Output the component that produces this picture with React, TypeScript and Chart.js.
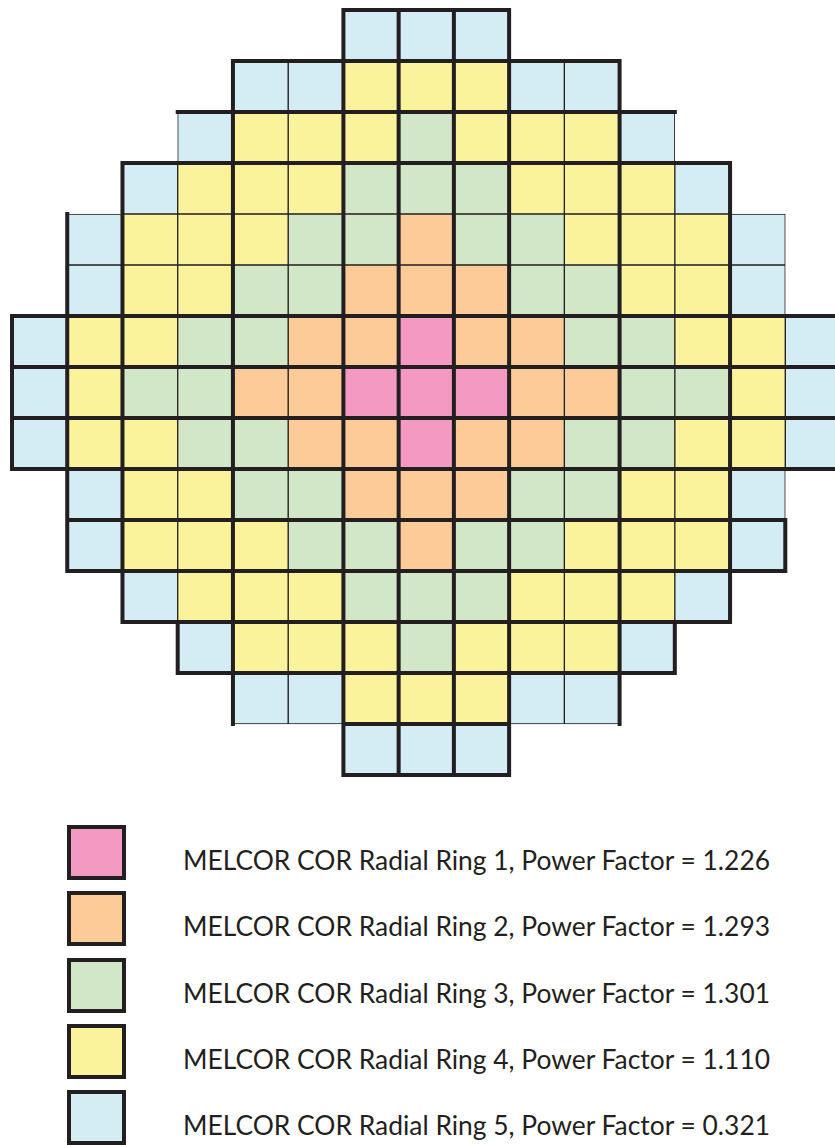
import React, { useEffect, useRef } from 'react';
import { Chart, registerables } from 'chart.js';

Chart.register(...registerables);

// ---- Data ----
const ROW_LABELS = ['Row 1', 'Row 2', 'Row 3', 'Row 4', 'Row 5', 'Row 6', 'Row 7', 'Row 8', 'Row 9', 'Row 10', 'Row 11', 'Row 12', 'Row 13', 'Row 14', 'Row 15'];
const COLUMNS = [0, 1, 2, 3, 4, 5, 6, 7, 8, 9, 10, 11, 12, 13, 14];
// ring number of each assembly, '.' = no assembly
const CORE_MAP = [
  '......555......',
  '....5544455....',
  '...544434445...',
  '..54443334445..',
  '.5444332334445.',
  '.5443322233445.',
  '544332212233445',
  '543322111223345',
  '544332212233445',
  '.5443322233445.',
  '.5444332334445.',
  '..54443334445..',
  '...544434445...',
  '....5544455....',
  '......555......',
];
const RING_NAMES = [
  'MELCOR COR Radial Ring 1',
  'MELCOR COR Radial Ring 2',
  'MELCOR COR Radial Ring 3',
  'MELCOR COR Radial Ring 4',
  'MELCOR COR Radial Ring 5',
];
const POWER_FACTORS = [1.226, 1.293, 1.301, 1.110, 0.321];

// ---- Styles ----
const RING_COLORS = ['#F49AC2', '#FDCB98', '#D1E7C7', '#FAF39B', '#D4ECF3'];
const LINE_COLOR = '#231F20';
const THICK_V = [0, 1, 2, 4, 6, 7, 8, 9, 11, 13];
const THICK_H = [0, 1, 2, 3, 6, 7, 8, 9, 10, 11, 12, 13, 14, 15];
const V_THICK_EXTRA = ['12:3', '12:12', '10:14'];
const V_THIN_EXTRA = ['2:3', '2:12', '4:14', '5:14', '9:14'];
const H_THIN_EXTRA = ['14:4', '14:5', '14:9', '14:10'];

const hasCell = (r: number, c: number) =>
  r >= 0 && r < CORE_MAP.length && c >= 0 && c < COLUMNS.length && CORE_MAP[r][c] !== '.';

const thickLines = {
  id: 'thickLines',
  afterDatasetsDraw(chart: any) {
    const { ctx } = chart;
    const xs = chart.scales.x;
    const ys = chart.scales.y;
    const xEdge = (b: number) => xs.getPixelForValue(b);
    const yEdge = (r: number) => ys.getPixelForValue(r - 0.5);
    ctx.save();
    ctx.strokeStyle = LINE_COLOR;
    ctx.lineWidth = 4;
    ctx.lineCap = 'square';
    ctx.beginPath();
    for (let r = 0; r < CORE_MAP.length; r++) {
      for (let b = 0; b <= COLUMNS.length; b++) {
        if (!(hasCell(r, b - 1) || hasCell(r, b))) continue;
        const key = r + ':' + b;
        let thick = THICK_V.includes(b);
        if (V_THICK_EXTRA.includes(key)) thick = true;
        if (V_THIN_EXTRA.includes(key)) thick = false;
        if (!thick) continue;
        ctx.moveTo(xEdge(b), yEdge(r));
        ctx.lineTo(xEdge(b), yEdge(r + 1));
      }
    }
    for (let r = 0; r <= CORE_MAP.length; r++) {
      for (let c = 0; c < COLUMNS.length; c++) {
        if (!(hasCell(r - 1, c) || hasCell(r, c))) continue;
        const key = r + ':' + c;
        let thick = THICK_H.includes(r);
        if (H_THIN_EXTRA.includes(key)) thick = false;
        if (!thick) continue;
        ctx.moveTo(xEdge(c), yEdge(r));
        ctx.lineTo(xEdge(c + 1), yEdge(r));
      }
    }
    ctx.stroke();
    ctx.restore();
  },
};

function CoreMap() {
  const ref = useRef<HTMLCanvasElement | null>(null);
  useEffect(() => {
    if (!ref.current) return;
    const datasets = COLUMNS.map((c) => ({
      label: 'Column ' + (c + 1),
      data: ROW_LABELS.map((_, r) => (hasCell(r, c) ? [c, c + 1] : null)),
      backgroundColor: ROW_LABELS.map((_, r) =>
        hasCell(r, c) ? RING_COLORS[Number(CORE_MAP[r][c]) - 1] : 'rgba(0,0,0,0)'
      ),
      borderColor: LINE_COLOR,
      borderWidth: 1,
      borderSkipped: false as any,
      grouped: false,
      barPercentage: 1,
      categoryPercentage: 1,
    }));
    const chart = new Chart(ref.current, {
      type: 'bar',
      data: { labels: ROW_LABELS, datasets: datasets as any },
      options: {
        indexAxis: 'y',
        animation: false,
        responsive: false,
        maintainAspectRatio: false,
        events: [],
        layout: { padding: { left: 12, top: 10, right: 0, bottom: 5 } },
        plugins: { legend: { display: false }, tooltip: { enabled: false } },
        scales: {
          x: { type: 'linear', min: 0, max: 14.9, display: false },
          y: { type: 'category', display: false, offset: true },
        },
      },
      plugins: [thickLines],
    });
    return () => chart.destroy();
  }, []);
  return <canvas ref={ref} width={835} height={780} style={{ display: 'block', width: 835, height: 780 }} />;
}

const LEGEND_TOP = 825;
const LEGEND_PITCH = 66.3;

export default function App() {
  return (
    <div
      style={{
        position: 'absolute',
        left: 0,
        top: 0,
        width: 835,
        height: 1145,
        overflow: 'hidden',
        background: '#fff',
      }}
    >
      <CoreMap />
      {RING_NAMES.map((name, i) => {
        const top = LEGEND_TOP + i * LEGEND_PITCH;
        return (
          <React.Fragment key={name}>
            <div
              style={{
                position: 'absolute',
                left: 67,
                top,
                width: 59,
                height: 55,
                boxSizing: 'border-box',
                border: '4px solid ' + LINE_COLOR,
                background: RING_COLORS[i],
              }}
            />
            <div
              style={{
                position: 'absolute',
                left: 183,
                top: top + 22,
                fontFamily: 'Lato, sans-serif',
                fontSize: 26.4,
                lineHeight: '26px',
                color: LINE_COLOR,
                whiteSpace: 'nowrap',
              }}
            >
              {name + ', Power Factor = ' + POWER_FACTORS[i].toFixed(3)}
            </div>
          </React.Fragment>
        );
      })}
    </div>
  );
}
